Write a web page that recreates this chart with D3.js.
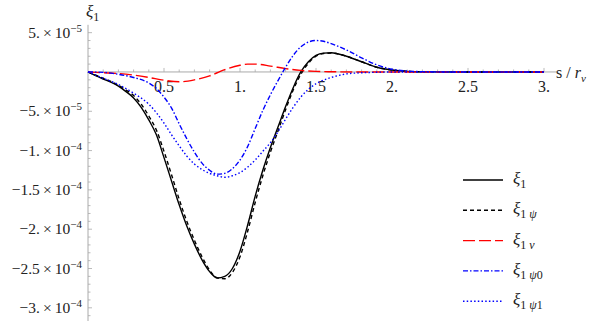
<!DOCTYPE html>
<html>
<head>
<meta charset="utf-8">
<script src="https://cdn.jsdelivr.net/npm/d3@7"></script>
<style>
  body { margin: 0; background: #fff; }
  svg text { font-family: "Liberation Serif", "Times New Roman", "DejaVu Serif", serif; fill: #222; }
</style>
</head>
<body>
<script>
// s / r_v sample points, values in units of 1e-5
var sXi1 =   [0, 0.05, 0.1, 0.15, 0.2, 0.25, 0.3, 0.35, 0.4, 0.45, 0.5, 0.55, 0.6, 0.65, 0.7, 0.75, 0.8, 0.85, 0.9, 0.95, 1.0, 1.05, 1.1, 1.15, 1.2, 1.25, 1.3, 1.35, 1.4, 1.45, 1.5, 1.55, 1.6, 1.7, 1.8, 1.9, 2.0, 2.1, 2.2, 2.4, 3.0];
var xi1 =    [0, -0.45, -0.9, -1.3, -1.8, -2.5, -3.3, -4.5, -6.1, -8.0, -10.9, -13.9, -16.9, -19.6, -21.9, -23.9, -25.4, -26.2, -26.0, -25.0, -22.8, -19.5, -15.8, -12.5, -9.6, -7.0, -4.4, -2.0, 0, 1.3, 2.1, 2.4, 2.45, 2.0, 1.3, 0.6, 0.25, 0.08, 0.02, 0, 0];
var xi1psi = [0, -0.4, -0.8, -1.2, -1.7, -2.3, -3.0, -4.1, -5.6, -7.4, -10.1, -13.1, -16.2, -19.0, -21.4, -23.5, -25.2, -26.2, -26.3, -25.5, -23.5, -20.3, -16.6, -13.2, -10.2, -7.5, -4.8, -2.3, -0.3, 1.1, 2.0, 2.35, 2.4, 2.0, 1.3, 0.6, 0.25, 0.08, 0.02, 0, 0];

var sNu =   [0, 0.1, 0.2, 0.3, 0.4, 0.5, 0.6, 0.7, 0.8, 0.85, 0.9, 1.0, 1.05, 1.1, 1.2, 1.3, 1.4, 1.5, 1.6, 1.8, 3.0];
var xi1nu = [0, -0.1, -0.2, -0.4, -0.7, -1.05, -1.25, -1.0, -0.5, -0.1, 0.3, 0.85, 1.0, 1.0, 0.75, 0.42, 0.2, 0.08, 0.03, 0, 0];

var sPsi0 =   [0, 0.1, 0.2, 0.3, 0.4, 0.45, 0.5, 0.55, 0.6, 0.65, 0.7, 0.75, 0.8, 0.85, 0.9, 0.95, 1.0, 1.05, 1.1, 1.15, 1.2, 1.25, 1.3, 1.35, 1.4, 1.45, 1.5, 1.55, 1.6, 1.7, 1.8, 1.9, 2.0, 2.1, 2.2, 2.4, 3.0];
var xi1psi0 = [0, -0.05, -0.3, -0.7, -1.4, -2.1, -3.2, -4.6, -6.6, -8.5, -10.2, -11.6, -12.5, -13.0, -12.9, -12.3, -11.2, -9.5, -7.2, -4.9, -2.9, -1.1, 0.6, 2.1, 3.2, 3.8, 4.0, 3.9, 3.6, 2.8, 1.8, 0.9, 0.35, 0.12, 0.04, 0, 0];

var sPsi1 =   [0, 0.05, 0.1, 0.2, 0.3, 0.4, 0.5, 0.55, 0.6, 0.65, 0.7, 0.75, 0.8, 0.85, 0.9, 0.95, 1.0, 1.05, 1.1, 1.15, 1.2, 1.25, 1.3, 1.35, 1.4, 1.45, 1.5, 1.6, 1.7, 1.8, 1.9, 2.0, 3.0];
var xi1psi1 = [0, -0.4, -0.8, -1.6, -2.7, -4.1, -6.5, -8.0, -9.4, -10.7, -11.7, -12.4, -12.9, -13.2, -13.4, -13.2, -12.8, -12.1, -11.2, -10.1, -9.0, -7.6, -6.0, -4.5, -3.2, -2.2, -1.5, -0.7, -0.25, -0.1, -0.04, 0, 0];

var xTickLabels = ["0.5", "1.", "1.5", "2.", "2.5", "3."];
var yTicks = [5e-5, -5e-5, -1e-4, -1.5e-4, -2e-4, -2.5e-4, -3e-4];
var yTickMant = ["5.", "\u22125.", "\u22121.", "\u22121.5", "\u22122.", "\u22122.5", "\u22123."];
var yTickExp = ["\u22125", "\u22125", "\u22124", "\u22124", "\u22124", "\u22124", "\u22124"];

var width = 599, height = 321;
var serif = "'Liberation Serif', 'Times New Roman', 'DejaVu Serif', serif";

var svg = d3.select("body").append("svg")
    .attr("width", width)
    .attr("height", height)
    .attr("font-family", serif);

var x = d3.scaleLinear().domain([0, 3]).range([88, 544]);
var y = d3.scaleLinear().domain([-3.15e-4, 6e-5]).range([319.6, 24.8]);

// axes
var axisColor = "#aaa";
svg.append("line").attr("x1", x(0)).attr("x2", 557).attr("y1", y(0)).attr("y2", y(0))
    .attr("stroke", axisColor).attr("stroke-width", 1);
svg.append("line").attr("x1", x(0)).attr("x2", x(0)).attr("y1", y(6e-5)).attr("y2", height)
    .attr("stroke", axisColor).attr("stroke-width", 1);

// x ticks
d3.range(1, 31).forEach(function(i) {
    var major = i % 5 == 0;
    svg.append("line")
        .attr("x1", x(i / 10)).attr("x2", x(i / 10))
        .attr("y1", y(0)).attr("y2", y(0) - (major ? 4 : 2.5))
        .attr("stroke", axisColor).attr("stroke-width", 0.8);
});
xTickLabels.forEach(function(t, i) {
    svg.append("text")
        .attr("x", x((i + 1) * 0.5)).attr("y", y(0) + 20)
        .attr("text-anchor", "middle")
        .attr("font-family", serif)
        .style("font-size", "16px")
        .text(t);
});

// y ticks
d3.range(-31, 6).forEach(function(i) {
    if (i == 0) return;
    var major = i % 5 == 0;
    svg.append("line")
        .attr("x1", x(0)).attr("x2", x(0) + (major ? 4 : 2.5))
        .attr("y1", y(i * 1e-5)).attr("y2", y(i * 1e-5))
        .attr("stroke", axisColor).attr("stroke-width", 0.8);
});
yTicks.forEach(function(v, i) {
    var t = svg.append("text")
        .attr("x", 82).attr("y", y(v) + 5)
        .attr("text-anchor", "end")
        .attr("font-family", serif)
        .style("font-size", "15.5px");
    t.append("tspan").text(yTickMant[i] + "\u2009\u00d7\u200910");
    t.append("tspan").attr("dy", -6).style("font-size", "11px").text(yTickExp[i]);
});

// axis labels
var yl = svg.append("text").attr("x", 86).attr("y", 17).attr("font-family", serif).style("font-size", "17px");
yl.append("tspan").style("font-style", "italic").text("\u03be");
yl.append("tspan").attr("dy", 4).style("font-size", "12px").text("1");

var xl = svg.append("text").attr("x", 556).attr("y", 78).attr("font-family", serif).style("font-size", "16px");
xl.append("tspan").text("s / ");
xl.append("tspan").style("font-style", "italic").text("r");
xl.append("tspan").attr("dy", 4).style("font-size", "11px").style("font-style", "italic").text("v");

// curves
var series = [
    { s: sXi1, v: xi1, color: "#000", dash: null, sub: "", idx: "" },
    { s: sXi1, v: xi1psi, color: "#000", dash: "4,3", sub: "\u03c8", idx: "" },
    { s: sNu, v: xi1nu, color: "#f00", dash: "12,4", sub: "\u03bd", idx: "" },
    { s: sPsi0, v: xi1psi0, color: "#00f", dash: "5,2,1.5,2", sub: "\u03c8", idx: "0" },
    { s: sPsi1, v: xi1psi1, color: "#00f", dash: "1.5,2.2", sub: "\u03c8", idx: "1" }
];

var line = d3.line()
    .x(function(d) { return x(d[0]); })
    .y(function(d) { return y(d[1] * 1e-5); })
    .curve(d3.curveMonotoneX);

series.forEach(function(sr) {
    var pts = sr.s.map(function(s, i) { return [s, sr.v[i]]; });
    svg.append("path")
        .attr("d", line(pts))
        .attr("fill", "none")
        .attr("stroke", sr.color)
        .attr("stroke-width", 1.4)
        .attr("stroke-dasharray", sr.dash);
});

// legend
series.forEach(function(sr, i) {
    var ly = 180 + i * 30.3;
    svg.append("line")
        .attr("x1", 463).attr("x2", 503).attr("y1", ly).attr("y2", ly)
        .attr("stroke", sr.color).attr("stroke-width", 1.4)
        .attr("stroke-dasharray", sr.dash);
    var t = svg.append("text").attr("x", 513).attr("y", ly + 4)
        .attr("font-family", serif).style("font-size", "17px");
    t.append("tspan").style("font-style", "italic").text("\u03be");
    t.append("tspan").attr("dy", 4).style("font-size", "12px").text("1");
    if (sr.sub) {
        t.append("tspan").attr("dx", 3).style("font-size", "12px").style("font-style", "italic").text(sr.sub);
    }
    if (sr.idx) {
        t.append("tspan").style("font-size", "12px").text(sr.idx);
    }
});
</script>
</body>
</html>
